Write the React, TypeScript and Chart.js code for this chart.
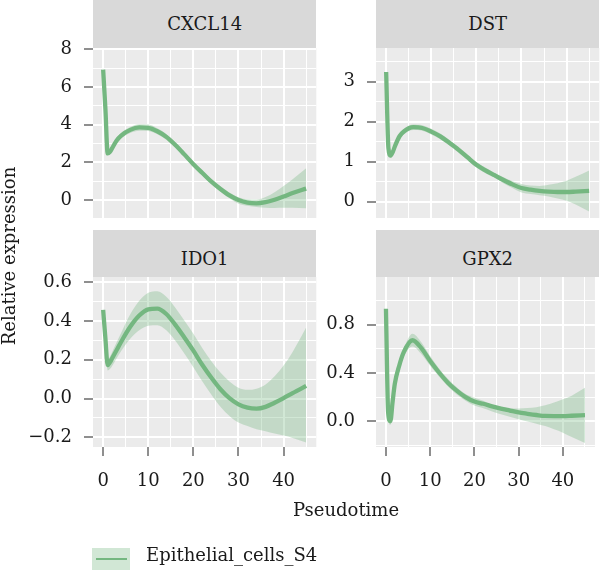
import React, { useEffect, useRef } from "react";
import { Chart, registerables } from "chart.js";

Chart.register(...registerables);

// ---- data -----------------------------------------------------------------

const pseudotime = [0, 0.5, 1, 1.5, 2, 3, 4, 6, 8, 10, 12, 14, 16, 18, 20, 22, 24, 26, 28, 30, 32, 34, 36, 38, 40, 42, 45];

const geneNames = ["CXCL14", "DST", "IDO1", "GPX2"];
const seriesName = "Epithelial_cells_S4";

const cxcl14Fit = [6.92, 4.83, 2.47, 2.55, 2.75, 3.16, 3.42, 3.72, 3.85, 3.83, 3.65, 3.35, 2.92, 2.42, 1.9, 1.43, 0.97, 0.58, 0.24, 0.0, -0.14, -0.18, -0.12, 0.01, 0.18, 0.37, 0.6];
const cxcl14Upper = [6.97, 4.88, 2.55, 2.65, 2.87, 3.3, 3.57, 3.88, 4.02, 4.0, 3.81, 3.5, 3.06, 2.55, 2.03, 1.56, 1.1, 0.72, 0.39, 0.14, 0.03, 0.02, 0.15, 0.41, 0.74, 1.1, 1.68];
const cxcl14Lower = [6.87, 4.78, 2.39, 2.45, 2.63, 3.02, 3.27, 3.56, 3.68, 3.66, 3.49, 3.2, 2.78, 2.29, 1.77, 1.3, 0.84, 0.44, 0.09, -0.2, -0.31, -0.37, -0.41, -0.43, -0.42, -0.41, -0.44];

const dstFit = [3.24, 1.34, 1.15, 1.25, 1.4, 1.64, 1.76, 1.86, 1.84, 1.75, 1.63, 1.47, 1.3, 1.11, 0.92, 0.78, 0.66, 0.54, 0.43, 0.34, 0.3, 0.27, 0.25, 0.24, 0.24, 0.25, 0.27];
const dstUpper = [3.28, 1.39, 1.2, 1.31, 1.47, 1.71, 1.83, 1.93, 1.91, 1.82, 1.7, 1.54, 1.37, 1.18, 0.99, 0.85, 0.72, 0.61, 0.51, 0.44, 0.4, 0.39, 0.42, 0.46, 0.52, 0.62, 0.78];
const dstLower = [3.2, 1.29, 1.1, 1.19, 1.33, 1.57, 1.69, 1.79, 1.77, 1.68, 1.56, 1.4, 1.23, 1.04, 0.85, 0.71, 0.6, 0.46, 0.34, 0.23, 0.19, 0.16, 0.13, 0.08, 0.02, -0.07, -0.25];

const ido1Fit = [0.457, 0.31, 0.172, 0.187, 0.208, 0.25, 0.293, 0.37, 0.428, 0.46, 0.464, 0.436, 0.38, 0.315, 0.247, 0.173, 0.107, 0.048, 0.002, -0.03, -0.047, -0.052, -0.043, -0.022, 0.002, 0.028, 0.065];
const ido1Upper = [0.47, 0.33, 0.2, 0.215, 0.24, 0.29, 0.34, 0.435, 0.505, 0.546, 0.554, 0.525, 0.468, 0.402, 0.334, 0.26, 0.193, 0.134, 0.088, 0.056, 0.045, 0.051, 0.073, 0.115, 0.17, 0.24, 0.366];
const ido1Lower = [0.445, 0.29, 0.145, 0.152, 0.168, 0.208, 0.245, 0.308, 0.352, 0.375, 0.378, 0.352, 0.298, 0.232, 0.162, 0.088, 0.02, -0.042, -0.09, -0.124, -0.142, -0.158, -0.169, -0.181, -0.191, -0.203, -0.227];

const gpx2Fit = [0.932, 0.07, 0.0, 0.16, 0.31, 0.46, 0.57, 0.671, 0.606, 0.499, 0.404, 0.32, 0.254, 0.2, 0.163, 0.145, 0.124, 0.105, 0.089, 0.073, 0.062, 0.052, 0.044, 0.043, 0.043, 0.046, 0.051];
const gpx2Upper = [0.945, 0.095, 0.03, 0.19, 0.34, 0.49, 0.6, 0.725, 0.655, 0.54, 0.438, 0.352, 0.282, 0.226, 0.195, 0.17, 0.135, 0.118, 0.111, 0.106, 0.109, 0.117, 0.132, 0.155, 0.182, 0.212, 0.277];
const gpx2Lower = [0.92, 0.045, -0.03, 0.13, 0.28, 0.42, 0.53, 0.62, 0.557, 0.46, 0.37, 0.29, 0.222, 0.17, 0.13, 0.108, 0.082, 0.058, 0.037, 0.017, -0.002, -0.02, -0.04, -0.066, -0.094, -0.13, -0.18];

// axis breaks and labels
const xLimits = [-2.25, 47.25];
const xMajor = [0, 10, 20, 30, 40];
const xMinor = [5, 15, 25, 35, 45];
const xTickLabels = ["0", "10", "20", "30", "40"];

const cxcl14Limits = [-0.96, 8.07];
const cxcl14Major = [0, 2, 4, 6, 8];
const cxcl14Minor = [1, 3, 5, 7];
const cxcl14TickLabels = ["0", "2", "4", "6", "8"];

const dstLimits = [-0.41, 3.84];
const dstMajor = [0, 1, 2, 3];
const dstMinor = [0.5, 1.5, 2.5, 3.5];
const dstTickLabels = ["0", "1", "2", "3"];

const ido1Limits = [-0.25, 0.627];
const ido1Major = [-0.2, 0, 0.2, 0.4, 0.6];
const ido1Minor = [-0.1, 0.1, 0.3, 0.5];
const ido1TickLabels = ["\u22120.2", "0.0", "0.2", "0.4", "0.6"];

const gpx2Limits = [-0.213, 1.195];
const gpx2Major = [0, 0.4, 0.8];
const gpx2Minor = [-0.2, 0.2, 0.6, 1.0];
const gpx2TickLabels = ["0.0", "0.4", "0.8"];

const xAxisTitle = "Pseudotime";
const yAxisTitle = "Relative expression";

// ---- styling --------------------------------------------------------------

const FONT = "'DejaVu Serif', serif";
const INK = "#1a1a1a";
const LINE_COLOR = "rgb(116, 183, 128)";
const RIBBON_COLOR = "rgba(116, 183, 128, 0.33)";
const PANEL_BG = "#EBEBEB";
const STRIP_BG = "#D9D9D9";

const W = 600;
const H = 570;

type Box = { left: number; right: number; top: number; bottom: number };

type Panel = {
  gene: string;
  fit: number[];
  upper: number[];
  lower: number[];
  limits: number[];
  major: number[];
  minor: number[];
  labels: string[];
  box: Box;
  axisLeft: number; // where the y-axis column begins
  bottomRow: boolean;
  strip: { top: number; height: number; textCenter: number };
};

const COL_L = { left: 93, right: 316.3, axisLeft: 0 };
const COL_R = { left: 376, right: 599.3, axisLeft: 300 };
const ROW_T = { top: 48, bottom: 218, strip: { top: 0, height: 47.5, textCenter: 23.7 } };
const ROW_B = { top: 277, bottom: 447, strip: { top: 229.5, height: 47.5, textCenter: 29.1 } };
const X_AXIS_H = 53;

const mk = (col: typeof COL_L, row: typeof ROW_T, bottomRow: boolean) => ({
  box: { left: col.left, right: col.right, top: row.top, bottom: row.bottom },
  axisLeft: col.axisLeft,
  bottomRow,
  strip: row.strip,
});

const panels: Panel[] = [
  { gene: geneNames[0], fit: cxcl14Fit, upper: cxcl14Upper, lower: cxcl14Lower, limits: cxcl14Limits, major: cxcl14Major, minor: cxcl14Minor, labels: cxcl14TickLabels, ...mk(COL_L, ROW_T, false) },
  { gene: geneNames[1], fit: dstFit, upper: dstUpper, lower: dstLower, limits: dstLimits, major: dstMajor, minor: dstMinor, labels: dstTickLabels, ...mk(COL_R, ROW_T, false) },
  { gene: geneNames[2], fit: ido1Fit, upper: ido1Upper, lower: ido1Lower, limits: ido1Limits, major: ido1Major, minor: ido1Minor, labels: ido1TickLabels, ...mk(COL_L, ROW_B, true) },
  { gene: geneNames[3], fit: gpx2Fit, upper: gpx2Upper, lower: gpx2Lower, limits: gpx2Limits, major: gpx2Major, minor: gpx2Minor, labels: gpx2TickLabels, ...mk(COL_R, ROW_B, true) },
];

// ---- chart config ---------------------------------------------------------

const near = (a: number, b: number) => Math.abs(a - b) < 1e-9;
const isIn = (list: number[], v: number) => list.some((m) => near(m, v));
const labelFor = (values: number[], labels: string[], v: number) => {
  const i = values.findIndex((m) => near(m, v));
  return i >= 0 ? labels[i] : "";
};
const breaks = (major: number[], minor: number[]) =>
  [...major, ...minor].sort((a, b) => a - b).map((value) => ({ value }));

const panelBackground = {
  id: "panelBackground",
  beforeDraw(chart: any) {
    const { ctx, chartArea: a } = chart;
    ctx.save();
    ctx.fillStyle = PANEL_BG;
    ctx.fillRect(a.left, a.top, a.right - a.left, a.bottom - a.top);
    ctx.restore();
  },
};

function buildConfig(p: Panel): any {
  const pts = (ys: number[]) => pseudotime.map((x, i) => ({ x, y: ys[i] }));
  const tickFont = { family: FONT, size: 18 };
  const xH = p.bottomRow ? X_AXIS_H : 0;
  return {
    type: "line",
    data: {
      datasets: [
        {
          label: seriesName,
          data: pts(p.fit),
          borderColor: LINE_COLOR,
          borderWidth: 4.3,
          pointRadius: 0,
          cubicInterpolationMode: "monotone",
          fill: false,
        },
        {
          label: "lower",
          data: pts(p.lower),
          borderColor: "rgba(0,0,0,0)",
          borderWidth: 0,
          pointRadius: 0,
          cubicInterpolationMode: "monotone",
          fill: false,
        },
        {
          label: "upper",
          data: pts(p.upper),
          borderColor: "rgba(0,0,0,0)",
          borderWidth: 0,
          pointRadius: 0,
          cubicInterpolationMode: "monotone",
          fill: "-1",
          backgroundColor: RIBBON_COLOR,
        },
      ],
    },
    options: {
      responsive: false,
      animation: false,
      events: [],
      layout: {
        padding: {
          left: p.axisLeft,
          right: W - p.box.right,
          top: p.box.top,
          bottom: H - p.box.bottom - xH,
        },
      },
      plugins: { legend: { display: false }, tooltip: { enabled: false } },
      scales: {
        x: {
          type: "linear",
          min: xLimits[0],
          max: xLimits[1],
          afterBuildTicks: (s: any) => {
            s.ticks = breaks(xMajor, xMinor);
          },
          afterFit: (s: any) => {
            s.height = xH;
          },
          border: { display: false },
          grid: {
            color: "#ffffff",
            lineWidth: (c: any) => (isIn(xMajor, c.tick.value) ? 2 : 1),
            drawTicks: p.bottomRow,
            tickLength: 9,
            tickWidth: 1.1,
            tickColor: (c: any) => (isIn(xMajor, c.tick.value) ? "#333333" : "rgba(0,0,0,0)"),
          },
          ticks: {
            display: p.bottomRow,
            autoSkip: false,
            maxRotation: 0,
            padding: 15,
            color: INK,
            font: tickFont,
            callback: (v: number) => labelFor(xMajor, xTickLabels, v),
          },
        },
        y: {
          type: "linear",
          min: p.limits[0],
          max: p.limits[1],
          afterBuildTicks: (s: any) => {
            s.ticks = breaks(p.major, p.minor);
          },
          afterFit: (s: any) => {
            s.width = p.box.left - p.axisLeft;
          },
          border: { display: false },
          grid: {
            color: "#ffffff",
            lineWidth: (c: any) => (isIn(p.major, c.tick.value) ? 2 : 1),
            drawTicks: true,
            tickLength: 9,
            tickWidth: 1.1,
            tickColor: (c: any) => (isIn(p.major, c.tick.value) ? "#333333" : "rgba(0,0,0,0)"),
          },
          ticks: {
            autoSkip: false,
            padding: 12,
            color: INK,
            font: tickFont,
            callback: (v: number) => labelFor(p.major, p.labels, v),
          },
        },
      },
    },
    plugins: [panelBackground],
  };
}

// ---- components -----------------------------------------------------------

function PanelChart({ panel }: { panel: Panel }) {
  const ref = useRef<HTMLCanvasElement>(null);
  useEffect(() => {
    if (!ref.current) return;
    const chart = new Chart(ref.current, buildConfig(panel));
    return () => chart.destroy();
  }, [panel]);
  return (
    <canvas
      ref={ref}
      width={W}
      height={H}
      style={{ position: "absolute", left: 0, top: 0, width: W, height: H }}
    />
  );
}

const textBase: React.CSSProperties = {
  position: "absolute",
  fontFamily: FONT,
  color: INK,
  whiteSpace: "nowrap",
};

function Strip({ panel }: { panel: Panel }) {
  const { box, strip } = panel;
  return (
    <div
      style={{
        position: "absolute",
        left: box.left,
        top: strip.top,
        width: box.right - box.left,
        height: strip.height,
        background: STRIP_BG,
      }}
    >
      <div
        style={{
          ...textBase,
          left: 0,
          right: 0,
          top: strip.textCenter - 11,
          lineHeight: "22px",
          fontSize: 18,
          textAlign: "center",
        }}
      >
        {panel.gene}
      </div>
    </div>
  );
}

export default function App() {
  return (
    <div
      style={{
        position: "fixed",
        left: 0,
        top: 0,
        width: W,
        height: H,
        background: "#ffffff",
        overflow: "hidden",
      }}
    >
      {panels.map((p) => (
        <Strip key={"s" + p.gene} panel={p} />
      ))}
      {panels.map((p) => (
        <PanelChart key={p.gene} panel={p} />
      ))}

      {/* x-axis title */}
      <div
        style={{
          ...textBase,
          left: 146,
          width: 400,
          top: 509.7 - 11,
          lineHeight: "22px",
          fontSize: 18,
          textAlign: "center",
        }}
      >
        {xAxisTitle}
      </div>

      {/* y-axis title */}
      <div
        style={{
          ...textBase,
          left: 9 - 200,
          width: 400,
          top: 256 - 11,
          lineHeight: "22px",
          fontSize: 18,
          textAlign: "center",
          transform: "rotate(-90deg)",
        }}
      >
        {yAxisTitle}
      </div>

      {/* legend */}
      <div
        style={{
          position: "absolute",
          left: 92,
          top: 548,
          width: 38,
          height: 22,
          background: RIBBON_COLOR,
        }}
      >
        <div
          style={{
            position: "absolute",
            left: 3.5,
            right: 3.5,
            top: 10,
            height: 1.6,
            background: LINE_COLOR,
          }}
        />
      </div>
      <div
        style={{
          ...textBase,
          left: 146,
          top: 555 - 11,
          lineHeight: "22px",
          fontSize: 18,
        }}
      >
        {seriesName}
      </div>
    </div>
  );
}
